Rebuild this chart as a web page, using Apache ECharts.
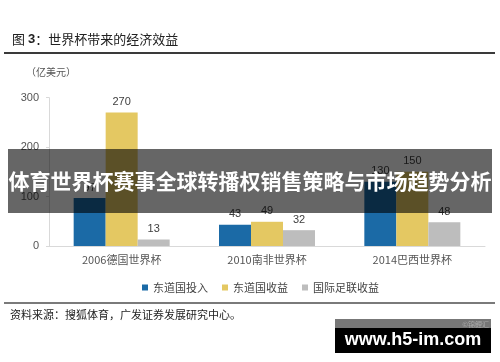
<!DOCTYPE html>
<html>
<head>
<meta charset="utf-8">
<script src="https://cdn.jsdelivr.net/npm/echarts@6/dist/echarts.min.js"></script>
<style>
html,body{margin:0;padding:0;background:#fff;}
#chart{width:500px;height:362px;}
</style>
</head>
<body>
<div id="chart"></div>
<script>
var categories = ['2006德国世界杯', '2010南非世界杯', '2014巴西世界杯'];
var hostInput = [97, 43, 130];
var hostRevenue = [270, 49, 150];
var fifaRevenue = [13, 32, 48];
var seriesNames = ['东道国投入', '东道国收益', '国际足联收益'];
var yTicks = [0, 100, 200, 300];

var colors = ['#1b6aa6', '#e4c862', '#bdbdbd'];
var cjk = '"Noto Sans CJK SC", sans-serif';
var latin = 'Arial, "Liberation Sans", sans-serif';

var chart = echarts.init(document.getElementById('chart'), null, {renderer: 'canvas'});

function barSeries(name, data, color) {
  return {
    name: name,
    type: 'bar',
    data: data,
    barWidth: 32,
    barGap: '0%',
    itemStyle: {color: color},
    label: {
      show: true,
      position: 'top',
      distance: 5,
      color: '#404040',
      fontSize: 11,
      fontFamily: latin
    }
  };
}

var option = {
  animation: false,
  backgroundColor: '#fff',
  color: colors,
  grid: {left: 49, right: 15, top: 97.7, height: 148.3, containLabel: false},
  legend: {
    data: seriesNames,
    top: 277,
    left: 137,
    itemWidth: 6,
    itemHeight: 6,
    itemGap: 14,
    icon: 'rect',
    textStyle: {color: '#444', fontSize: 11, fontFamily: cjk}
  },
  xAxis: {
    type: 'category',
    data: categories,
    axisLine: {show: true, lineStyle: {color: '#d9d9d9', width: 1}},
    axisTick: {show: false},
    axisLabel: {color: '#555', fontSize: 11, fontFamily: cjk, margin: 8}
  },
  yAxis: {
    type: 'value',
    min: yTicks[0],
    max: yTicks[yTicks.length - 1],
    interval: 100,
    axisLine: {show: true, lineStyle: {color: '#d9d9d9', width: 1}},
    axisTick: {show: true, length: 3, lineStyle: {color: '#d9d9d9'}},
    splitLine: {show: false},
    axisLabel: {color: '#555', fontSize: 11, fontFamily: latin, margin: 10}
  },
  series: [
    barSeries(seriesNames[0], hostInput, colors[0]),
    barSeries(seriesNames[1], hostRevenue, colors[1]),
    barSeries(seriesNames[2], fifaRevenue, colors[2])
  ],
  graphic: [
    {
      type: 'text', left: 12, top: 33,
      style: {
        text: '{a|图 }{b|3}{a|：世界杯带来的经济效益}',
        rich: {
          a: {fontSize: 13, fontFamily: cjk, fill: '#222', fontWeight: 'normal'},
          b: {fontSize: 13, fontFamily: latin, fill: '#222', fontWeight: 'bold'}
        }
      }
    },
    {type: 'rect', shape: {x: 4, y: 52, width: 491, height: 2}, style: {fill: '#3a3a3a'}},
    {
      type: 'text', left: 26, top: 67,
      style: {text: '（亿美元）', fontSize: 10, fontFamily: cjk, fill: '#555'}
    },
    {type: 'rect', shape: {x: 4, y: 302, width: 491, height: 2}, style: {fill: '#7a7a7a'}},
    {
      type: 'text', left: 10, top: 309,
      style: {text: '资料来源：搜狐体育，广发证券发展研究中心。', fontSize: 11, fontFamily: cjk, fill: '#222'}
    },
    {
      type: 'rect', z: 100, shape: {x: 8, y: 149, width: 484, height: 64},
      style: {fill: 'rgba(0,0,0,0.6)'}
    },
    {
      type: 'text', z: 101, x: 250, y: 181,
      style: {
        text: '体育世界杯赛事全球转播权销售策略与市场趋势分析',
        fontSize: 21, fontWeight: 'bold', fontFamily: cjk, fill: '#fff',
        align: 'center', verticalAlign: 'middle'
      }
    },
    {type: 'rect', z: 100, shape: {x: 335, y: 319, width: 156, height: 10}, style: {fill: '#777'}},
    {type: 'rect', z: 100, shape: {x: 335, y: 328, width: 156, height: 25}, style: {fill: '#000'}},
    {
      type: 'text', z: 101, x: 489, y: 324,
      style: {text: '©锦鲤汇', fontSize: 7, fontFamily: cjk, fill: '#aaa', align: 'right', verticalAlign: 'middle'}
    },
    {
      type: 'text', z: 101, x: 413, y: 340,
      style: {text: 'www.h5-im.com', fontSize: 18, fontWeight: 'bold', fontFamily: latin, fill: '#fff', align: 'center', verticalAlign: 'middle'}
    }
  ]
};
chart.setOption(option);
</script>
</body>
</html>
